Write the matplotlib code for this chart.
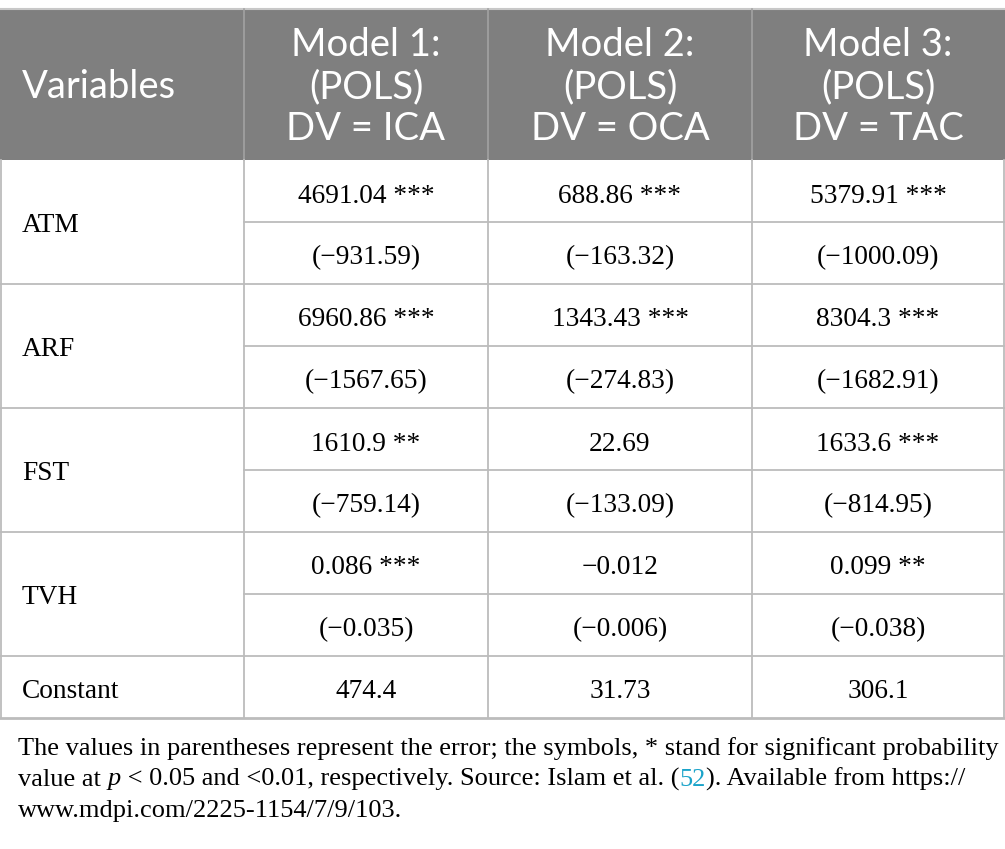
import matplotlib
matplotlib.use("Agg")
import matplotlib.pyplot as plt
from matplotlib.patches import Rectangle

# ---- data ----
header_first = "Variables"
model_headers = ["Model 1:\n(POLS)\nDV = ICA", "Model 2:\n(POLS)\nDV = OCA", "Model 3:\n(POLS)\nDV = TAC"]
variables = ["ATM", "ARF", "FST", "TVH"]
coefs = [
    ["4691.04 ***", "688.86 ***", "5379.91 ***"],
    ["6960.86 ***", "1343.43 ***", "8304.3 ***"],
    ["1610.9 **", "22.69", "1633.6 ***"],
    ["0.086 ***", "\u22120.012", "0.099 **"],
]
errors = [
    ["(\u2212931.59)", "(\u2212163.32)", "(\u22121000.09)"],
    ["(\u22121567.65)", "(\u2212274.83)", "(\u22121682.91)"],
    ["(\u2212759.14)", "(\u2212133.09)", "(\u2212814.95)"],
    ["(\u22120.035)", "(\u22120.006)", "(\u22120.038)"],
]
const_label = "Constant"
constants = ["474.4", "31.73", "306.1"]

W, H = 1005, 849
fig = plt.figure(figsize=(W / 100, H / 100), dpi=100)
ax = fig.add_axes([0, 0, 1, 1])
ax.set_xlim(0, W)
ax.set_ylim(H, 0)
ax.axis("off")

col_x = [0, 244, 488, 752, 1004]
top = 8.5
head_bot = 160
sub_h = 62
grid_c = "#bcbcbc"
head_c = "#7f7f7f"
serif = ["Liberation Serif", "DejaVu Serif"]
sans = ["Lato", "DejaVu Sans"]
body_fs = 19.7
head_fs = 27.5

# header background
ax.add_patch(Rectangle((0, top), W, head_bot - top, color=head_c, lw=0, zorder=0))
ax.plot([0, W], [top, top], color="#c8c8c8", lw=1.5, zorder=1)
for x in col_x[1:-1]:
    ax.plot([x, x], [top, head_bot], color="#a3a3a3", lw=1.2, zorder=1)

ax.text(22, 87, header_first, color="white", fontsize=head_fs, family=sans,
        ha="left", va="center")
for j, h in enumerate(model_headers):
    cx = (col_x[j + 1] + col_x[j + 2]) / 2
    for k, line in enumerate(h.split("\n")):
        ax.text(cx, 45 + 42 * k, line, color="white", fontsize=head_fs, family=sans,
                ha="center", va="center")

# body
y = head_bot
for i, var in enumerate(variables):
    y0 = y
    ax.text(22, y0 + sub_h, var, fontsize=body_fs, family=serif, ha="left", va="center_baseline")
    for j in range(3):
        cx = (col_x[j + 1] + col_x[j + 2]) / 2
        ax.text(cx, y0 + sub_h / 2 + 2, coefs[i][j], fontsize=body_fs, family=serif,
                ha="center", va="center_baseline")
        ax.text(cx, y0 + 1.5 * sub_h + 2, errors[i][j], fontsize=body_fs, family=serif,
                ha="center", va="center_baseline")
    ax.plot([col_x[1], col_x[-1]], [y0 + sub_h, y0 + sub_h], color=grid_c, lw=1.3)
    y = y0 + 2 * sub_h
    ax.plot([0, W], [y, y], color=grid_c, lw=1.3)

# constant row
ax.text(22, y + sub_h / 2 + 2, const_label, fontsize=body_fs, family=serif,
        ha="left", va="center_baseline")
for j in range(3):
    cx = (col_x[j + 1] + col_x[j + 2]) / 2
    ax.text(cx, y + sub_h / 2 + 2, constants[j], fontsize=body_fs, family=serif,
            ha="center", va="center_baseline")
bottom = y + sub_h
ax.plot([0, W], [bottom, bottom], color=grid_c, lw=2)

for x in col_x:
    xx = min(max(x, 1), W - 1)
    ax.plot([xx, xx], [head_bot, bottom], color=grid_c, lw=1.3)

# footnote
foot_fs = 19
renderer = fig.canvas.get_renderer()

def put_segments(x, yy, segs):
    for txt, kw in segs:
        t = ax.text(x, yy, txt, fontsize=foot_fs, family=serif, ha="left",
                    va="center_baseline", **kw)
        bb = t.get_window_extent(renderer)
        x += bb.width
    return x

put_segments(18, 746, [("The values in parentheses represent the error; the symbols, * stand for significant probability", {})])
put_segments(18, 777, [("value at ", {}), ("p", {"style": "italic"}),
                       (" < 0.05 and <0.01, respectively. Source: Islam et al. (", {}),
                       ("52", {"color": "#1aa3c9"}),
                       ("). Available from https://", {})])
put_segments(18, 808, [("www.mdpi.com/2225-1154/7/9/103.", {})])

fig.savefig("out.png", dpi=100)
